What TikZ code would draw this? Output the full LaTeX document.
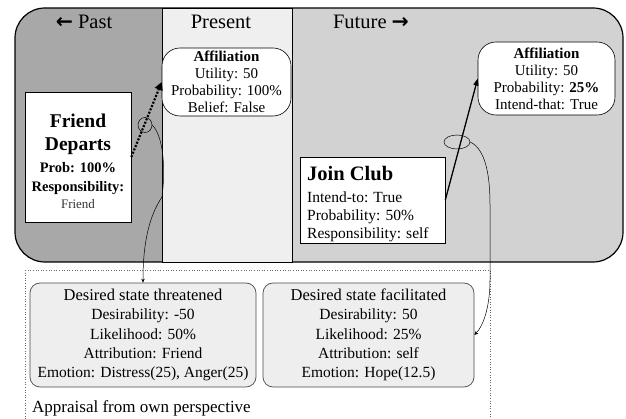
\documentclass[tikz,border=0pt]{standalone}
\usepackage{fontspec}
\setmainfont{Liberation Serif}
\newfontfamily\arrowfont{DejaVu Sans}
\usetikzlibrary{shapes.geometric,arrows.meta}
\definecolor{pastc}{HTML}{A8A8A8}
\definecolor{presc}{HTML}{EFEFEF}
\definecolor{futc}{HTML}{D2D2D2}
\definecolor{boxc}{HTML}{EEEEEE}
\tikzset{
  fs/.style={font=\fontsize{#1}{#1}\selectfont},
  zonelbl/.style={font=\fontsize{20.5}{24}\selectfont, inner sep=0pt},
  affbox/.style={draw, fill=white, rounded corners=18pt, line width=0.6pt, inner sep=0pt, align=center,
    font=\fontsize{15}{17}\selectfont},
  evbox/.style={draw, fill=white, line width=0.6pt, inner sep=0pt},
  desbox/.style={draw=black!70, fill=boxc, rounded corners=10pt, line width=0.7pt, inner sep=0pt,
    align=center, font=\fontsize{15.5}{19.3}\selectfont},
  loop/.style={draw, ellipse, inner sep=0pt, line width=0.5pt},
  thinarrow/.style={line width=0.5pt, -{Stealth[length=4pt,width=3.5pt]}},
}
\begin{document}
\begin{tikzpicture}[x=1pt,y=-1pt]
\useasboundingbox (0,0) rectangle (626,419);
\fill[white] (0,0) rectangle (626,419);
% time zones
\begin{scope}
  \clip[rounded corners=30pt] (15,8) rectangle (623,262);
  \fill[futc] (15,8) rectangle (623,262);
  \fill[pastc] (15,8) rectangle (162,262);
\end{scope}
\draw[line width=1.2pt, rounded corners=30pt] (15,8) rectangle (623,262);
\draw[fill=presc, line width=0.7pt] (162,8) rectangle (292,262);
% zone labels
\node[zonelbl] (pastlbl) at (84,22) {{\arrowfont\bfseries ←} Past};
\node[zonelbl] (preslbl) at (221,22) {Present};
\node[zonelbl] (futlbl) at (371,22) {Future {\arrowfont\bfseries →}};
% appraisal frame
\draw[black!60, dotted, line width=0.6pt] (25,270) rectangle (490,419);
% Present affiliation
\node[affbox, minimum width=129pt, minimum height=68pt] (affp) at (226.5,82)
  {\textbf{Affiliation}\\Utility: 50\\Probability: 100\%\\Belief: False};
% Future affiliation
\node[affbox, minimum width=137pt, minimum height=73pt] (afff) at (546.5,78.5)
  {\textbf{Affiliation}\\Utility: 50\\Probability: \textbf{25\%}\\Intend-that: True};
% Friend departs
\node[evbox, minimum width=106pt, minimum height=130pt] (fd) at (78,157) {};
\node[inner sep=0pt, align=center, font=\fontsize{14.5}{18}\selectfont] (fdtxt) at (78,161)
  {{\fontsize{19.5}{20}\selectfont\bfseries Friend}\\[5pt]
   {\fontsize{19.5}{20}\selectfont\bfseries Departs}\\[4pt]
   \textbf{Prob: 100\%}\\[1pt]
   \textbf{Responsibility:}\\[-1pt]
   {\fontsize{13}{14}\selectfont\color{black!80} Friend}};
% Join club
\node[evbox, minimum width=145pt, minimum height=86pt] (jc) at (372.5,200) {};
\node[inner sep=0pt, align=left, anchor=west, font=\fontsize{15.5}{18}\selectfont] (jctxt) at (307,204)
  {{\fontsize{20.5}{21}\selectfont\bfseries Join Club}\\[4pt]
   Intend-to: True\\Probability: 50\%\\Responsibility: self};
% arrows
\draw[line width=2.2pt, dash pattern=on 2pt off 1.6pt, -{Triangle[length=8pt,width=8pt]}]
  (fd.east) -- (affp.west);
\draw[line width=1.3pt, -{Triangle[length=7pt,width=5pt]}] (jc.east) -- (afff.west);
% loops on arrows
\node[loop, minimum width=14pt, minimum height=15pt] (e1) at (145,125) {};
\node[loop, minimum width=26pt, minimum height=14pt] (e2) at (457,142) {};
% appraisals
\node[desbox, minimum width=226pt, minimum height=104pt] (th) at (143,335)
  {{\fontsize{16.5}{19.3}\selectfont Desired state threatened}\\Desirability: -50\\Likelihood: 50\%\\Attribution: Friend\\Emotion: Distress(25), Anger(25)};
\node[desbox, minimum width=211pt, minimum height=104pt] (fa) at (368.5,335)
  {{\fontsize{16.5}{19.3}\selectfont Desired state facilitated}\\Desirability: 50\\Likelihood: 25\%\\Attribution: self\\Emotion: Hope(12.5)};
\node[anchor=west, inner sep=0pt, font=\fontsize{17}{20}\selectfont] (appr) at (32,408)
  {Appraisal from own perspective};
% links from loops to appraisals
\draw[thinarrow] (e1.east) .. controls (165,138) and (165,175) .. (162,197)
  .. controls (150,215) and (143,240) .. (th.north);
\draw[thinarrow] (e2.east) .. controls (487,150) and (490,180) .. (490,205)
  -- (490,280) .. controls (490,305) and (484,325) .. (fa.east);
\end{tikzpicture}
\end{document}
